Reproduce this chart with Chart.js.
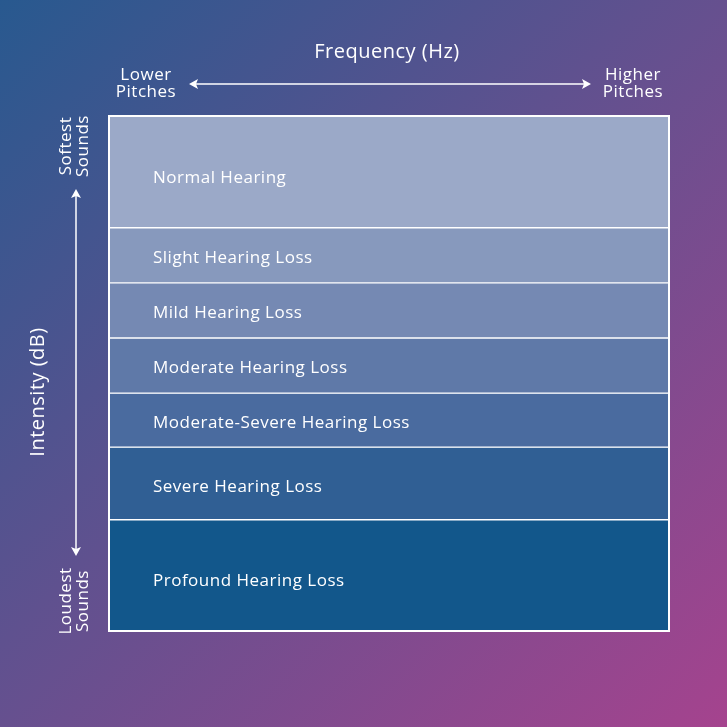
<!DOCTYPE html>
<html>
<head>
<meta charset="utf-8">
<script src="https://cdn.jsdelivr.net/npm/chart.js@4/dist/chart.umd.min.js"></script>
<style>
  html, body { margin: 0; padding: 0; background: #5a4f90; }
  #wrap { width: 727px; height: 727px; }
</style>
</head>
<body>
<div id="wrap"><canvas id="hearingChart" width="727" height="727"></canvas></div>
<script>
//Hearing loss bands, top (softest) to bottom (loudest)
var bandNames = ["Normal Hearing", "Slight Hearing Loss", "Mild Hearing Loss", "Moderate Hearing Loss",
  "Moderate-Severe Hearing Loss", "Severe Hearing Loss", "Profound Hearing Loss"];
//Relative thickness of each band on the intensity scale (0 - 100)
var bandSizes = [21.7, 10.7, 10.7, 10.7, 10.5, 14.1, 21.6];
var bandColors = ["#9ba9c8", "#8799bd", "#7589b3", "#5f79a8", "#4a6b9f", "#305f94", "#12578b"];
var categories = ["Frequency"];

var fontFamily = "'Open Sans', sans-serif";

//Background gradient
var bgPlugin = {
  id: "bg",
  beforeDraw: function(chart) {
    var c = chart.ctx;
    var g = c.createLinearGradient(0, 0, chart.width, chart.height);
    g.addColorStop(0, "#28598f");
    g.addColorStop(0.5, "#66508f");
    g.addColorStop(1, "#a5438e");
    c.save();
    c.fillStyle = g;
    c.fillRect(0, 0, chart.width, chart.height);
    c.restore();
  }
};

function arrowHead(c, x, y, dir) {
  //dir: angle in radians the arrow points to
  c.save();
  c.translate(x, y);
  c.rotate(dir);
  c.beginPath();
  c.moveTo(0, 0);
  c.lineTo(-9, -5);
  c.lineTo(-7, 0);
  c.lineTo(-9, 5);
  c.closePath();
  c.fill();
  c.restore();
}

//Band labels, arrows and axis texts
var labelPlugin = {
  id: "labels",
  afterDatasetsDraw: function(chart) {
    var c = chart.ctx;
    var area = chart.chartArea;
    c.save();
    c.fillStyle = "#ffffff";
    c.strokeStyle = "#ffffff";
    c.textBaseline = "middle";
    c.textAlign = "left";
    c.letterSpacing = "0.5px";
    c.font = "17px " + fontFamily;
    chart.data.datasets.forEach(function(ds, i) {
      var el = chart.getDatasetMeta(i).data[0];
      var h = Math.abs(el.base - el.y);
      var yMid = (el.y + el.base) / 2 + h * 0.055;
      c.fillText(ds.label, area.left + 44, yMid);
    });

    //outer frame
    c.lineWidth = 2;
    c.strokeRect(area.left, area.top, area.right - area.left, area.bottom - area.top);

    //top texts
    c.textAlign = "center";
    c.font = "20px " + fontFamily;
    c.fillText("Frequency (Hz)", 387, 52);
    c.font = "17px " + fontFamily;
    c.fillText("Lower", 146, 75);
    c.fillText("Pitches", 146, 92);
    c.fillText("Higher", 633, 75);
    c.fillText("Pitches", 633, 92);

    //horizontal arrow
    c.lineWidth = 1.5;
    c.beginPath();
    c.moveTo(192, 84);
    c.lineTo(588, 84);
    c.stroke();
    arrowHead(c, 189, 84, Math.PI);
    arrowHead(c, 591, 84, 0);

    //vertical arrow
    c.beginPath();
    c.moveTo(76, 193);
    c.lineTo(76, 552);
    c.stroke();
    arrowHead(c, 76, 189, -Math.PI / 2);
    arrowHead(c, 76, 556, Math.PI / 2);

    //rotated left texts
    c.save();
    c.translate(38, 392);
    c.rotate(-Math.PI / 2);
    c.font = "20px " + fontFamily;
    c.fillText("Intensity (dB)", 0, 0);
    c.restore();

    c.font = "17px " + fontFamily;
    c.save();
    c.translate(0, 146);
    c.rotate(-Math.PI / 2);
    c.fillText("Softest", 0, 66);
    c.fillText("Sounds", 0, 83);
    c.restore();

    c.save();
    c.translate(0, 601);
    c.rotate(-Math.PI / 2);
    c.fillText("Loudest", 0, 66);
    c.fillText("Sounds", 0, 83);
    c.restore();

    c.restore();
  }
};

var ctx = document.getElementById("hearingChart").getContext("2d");
var chart = new Chart(ctx, {
  type: "bar",
  data: {
    labels: categories,
    datasets: bandNames.map(function(name, i) {
      return {
        label: name,
        data: [bandSizes[i]],
        backgroundColor: bandColors[i],
        borderColor: "#ffffff",
        borderWidth: 1,
        borderSkipped: false,
        barPercentage: 1,
        categoryPercentage: 1
      };
    })
  },
  plugins: [bgPlugin, labelPlugin],
  options: {
    responsive: false,
    animation: false,
    layout: {
      padding: { left: 109, right: 58, top: 116, bottom: 96 }
    },
    plugins: {
      legend: { display: false },
      tooltip: { enabled: false }
    },
    scales: {
      x: { display: false, stacked: true },
      y: {
        display: false,
        stacked: true,
        reverse: true,
        min: 0,
        max: 100
      }
    }
  }
});
</script>
</body>
</html>
